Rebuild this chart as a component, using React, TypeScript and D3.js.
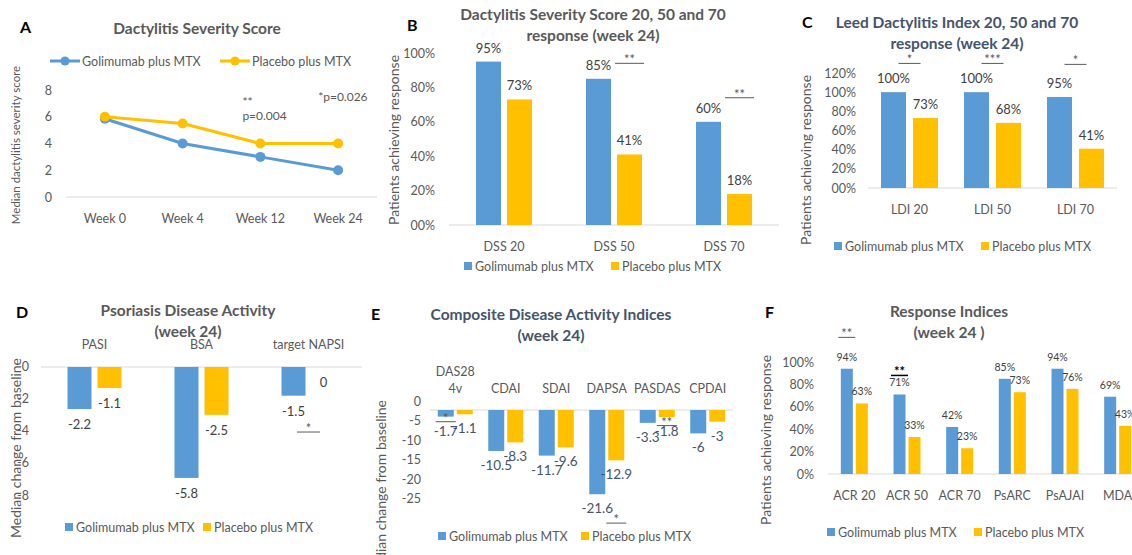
import React from "react";
import * as d3 from "d3";

// colours used by the original Excel panels
const BLUE = "#5B9BD5";
const GOLD = "#FFC000";
const GREY = "#595959";
const DARK = "#404040";
const SLATE = "#44546A";
const AXIS = "#D9D9D9";
const FONT = "Lato, 'Open Sans', sans-serif";
const COLORS = [BLUE, GOLD];

const seriesNames = ["Golimumab plus MTX", "Placebo plus MTX"];

// A - Dactylitis Severity Score over time
const weeks = ["Week 0", "Week 4", "Week 12", "Week 24"];
const dssGolimumab = [5.85, 4, 3, 2];
const dssPlacebo = [6, 5.5, 4, 4];
const dssTicks = [0, 2, 4, 6, 8];

// B - DSS response
const dssCats = ["DSS 20", "DSS 50", "DSS 70"];
const dssRespGol = [95, 85, 60];
const dssRespPla = [73, 41, 18];
const dssRespTicks = [0, 20, 40, 60, 80, 100];
const dssSig = [
  { cat: "DSS 50", text: "**", level: 94, over: "pla" },
  { cat: "DSS 70", text: "**", level: 74, over: "pla" },
];

// C - LDI response
const ldiCats = ["LDI 20", "LDI 50", "LDI 70"];
const ldiGol = [100, 100, 95];
const ldiPla = [73, 68, 41];
const ldiTicks = [0, 20, 40, 60, 80, 100, 120];
const ldiSig = [
  { cat: "LDI 20", text: "*", level: 130, over: "mid" },
  { cat: "LDI 50", text: "***", level: 130, over: "mid" },
  { cat: "LDI 70", text: "*", level: 129, over: "mid" },
];

// D - psoriasis activity
const psoCats = ["PASI", "BSA", "target NAPSI"];
const psoGol = [-2.2, -5.8, -1.5];
const psoPla = [-1.1, -2.5, 0];
const psoTicks = [0, -2, -4, -6, -8];
const psoSig = [{ cat: "target NAPSI", text: "*", level: -3.4, over: "mid" }];

// E - composite indices
const compCats = ["DAS28\n4v", "CDAI", "SDAI", "DAPSA", "PASDAS", "CPDAI"];
const compGol = [-1.7, -10.5, -11.7, -21.6, -3.3, -6];
const compPla = [-1.1, -8.3, -9.6, -12.9, -1.8, -3];
const compTicks = [0, -5, -10, -15, -20, -25];
const compSig = [
  { cat: "DAS28\n4v", text: "*", level: -3, over: "gol" },
  { cat: "PASDAS", text: "**", level: -4, over: "pla" },
  { cat: "DAPSA", text: "*", level: -29, over: "pla" },
];

// F - response indices
const respCats = ["ACR 20", "ACR 50", "ACR 70", "PsARC", "PsAJAI", "MDA"];
const respGol = [94, 71, 42, 85, 94, 69];
const respPla = [63, 33, 23, 73, 76, 43];
const respTicks = [0, 20, 40, 60, 80, 100];
const respSig = [
  { cat: "ACR 20", text: "**", level: 122, over: "gol" },
  { cat: "ACR 50", text: "**", level: 88, over: "gol" },
];

const pct0 = (v: number) => (v === 0 ? "00%" : v + "%");
const pct = (v: number) => v + "%";
const num = (v: number) => String(v);

function Legend({ x, y, step, line }: { x: number; y: number; step: number; line?: boolean }) {
  return (
    <g fontFamily={FONT} fontSize={12.5} fill={GREY}>
      {seriesNames.map((name, i) => {
        const lx = x + i * step;
        return line ? (
          <g key={name}>
            <line x1={lx} x2={lx + 30} y1={y} y2={y} stroke={COLORS[i]} strokeWidth={3} />
            <circle cx={lx + 15} cy={y} r={4.5} fill={COLORS[i]} />
            <text x={lx + 32} y={y + 4.5}>{name}</text>
          </g>
        ) : (
          <g key={name}>
            <rect x={lx} y={y - 4} width={8} height={8} fill={COLORS[i]} />
            <text x={lx + 11} y={y + 4.5}>{name}</text>
          </g>
        );
      })}
    </g>
  );
}

function Heading({ letter, lx, ly, lines, tx, ty, color }: any) {
  return (
    <g fontFamily={FONT} fontWeight="bold">
      <text x={lx} y={ly} fontSize={16} fill="#000">{letter}</text>
      {lines.map((l: string, i: number) => (
        <text key={i} x={tx} y={ty + i * 21} fontSize={15.5} fill={color} textAnchor="middle">{l}</text>
      ))}
    </g>
  );
}

function YTitle({ x, y, text, size = 14 }: { x: number; y: number; text: string; size?: number }) {
  return (
    <text transform={`translate(${x},${y}) rotate(-90)`} textAnchor="middle" dominantBaseline="middle"
      fontFamily={FONT} fontSize={size} fill={GREY}>{text}</text>
  );
}

function LinePanel() {
  const x = d3.scalePoint().domain(weeks).range([66, 377]).padding(0.5);
  const y = d3.scaleLinear().domain([0, 8]).range([197, 90]);
  const line = d3.line<number>().x((_, i) => x(weeks[i])!).y((d) => y(d));
  return (
    <g>
      <Heading letter="A" lx={20} ly={33} lines={["Dactylitis Severity Score"]} tx={197} ty={34} color={GREY} />
      <Legend x={50} y={61} step={170} line />
      <YTitle x={17} y={145} text="Median dactylitis severity score" size={11.5} />
      <line x1={66} x2={377} y1={y(0)} y2={y(0)} stroke={AXIS} />
      <g fontFamily={FONT} fontSize={12.5} fill={GREY}>
        {dssTicks.map((t) => (
          <text key={t} x={52} y={y(t) + 4.5} textAnchor="end">{t}</text>
        ))}
        {weeks.map((w) => (
          <text key={w} x={x(w)} y={223} textAnchor="middle">{w}</text>
        ))}
      </g>
      {[dssGolimumab, dssPlacebo].map((s, k) => (
        <g key={k}>
          <path d={line(s)!} fill="none" stroke={COLORS[k]} strokeWidth={3} />
          {s.map((v, i) => (
            <circle key={i} cx={x(weeks[i])} cy={y(v)} r={5} fill={COLORS[k]} />
          ))}
        </g>
      ))}
      <g fontFamily={FONT} fontSize={12} fill={GREY}>
        <text x={x("Week 12")! - 18} y={106}>**</text>
        <text x={x("Week 12")! - 18} y={120}>p=0.004</text>
        <text x={x("Week 24")! - 20} y={101}>*p=0.026</text>
      </g>
    </g>
  );
}

function BarPanel({ c }: { c: any }) {
  const x = d3.scaleBand<string>().domain(c.cats).range(c.xRange);
  const y = d3.scaleLinear().domain(c.yDomain).range(c.yRange);
  const yt = c.tickRange ? d3.scaleLinear().domain(c.yDomain).range(c.tickRange) : y;
  const zero = y(0);
  const mid = (cat: string) => x(cat)! + x.bandwidth() / 2;
  const barX = (cat: string, s: number) =>
    mid(cat) + (s === 0 ? -c.gap / 2 - c.barW : c.gap / 2);
  const series = [c.gol, c.pla];
  const below = c.yDomain[1] < 0;
  return (
    <g>
      <Heading letter={c.letter} lx={c.letterX} ly={c.letterY} lines={c.title} tx={c.titleX} ty={c.titleY} color={c.titleColor} />
      <YTitle x={c.yTitleX} y={c.yTitleY} text={c.yTitle} />
      <line x1={c.xRange[0]} x2={c.xRange[1]} y1={zero} y2={zero} stroke={AXIS} />
      <g fontFamily={FONT} fontSize={12.5} fill={GREY}>
        {c.ticks.map((t: number) => (
          <text key={t} x={c.tickX} y={yt(t) + (c.tickShift || 0) + 4.5} textAnchor="end">{c.tickFmt(t)}</text>
        ))}
        {c.cats.map((cat: string) => {
          const lines = cat.split("\n");
          return lines.map((l, i) => (
            <text key={cat + i} x={mid(cat)} y={c.catY - (lines.length - 1 - i) * 17} textAnchor="middle">{l}</text>
          ));
        })}
      </g>
      {series.map((s: number[], k: number) => (
        <g key={k}>
          {s.map((v, i) => {
            const cat = c.cats[i];
            const yv = y(v);
            return (
              <g key={i}>
                <rect x={barX(cat, k)} y={Math.min(yv, zero)} width={c.barW} height={Math.abs(yv - zero)} fill={COLORS[k]} />
                <text x={barX(cat, k) + c.barW / 2} y={below ? yv + c.valueGap : yv - c.valueGap}
                  textAnchor="middle" fontFamily={FONT} fontSize={c.valueSize} fill={c.valueColor}>
                  {c.valueFmt(v)}
                </text>
              </g>
            );
          })}
        </g>
      ))}
      {c.sig.map((sg: any, i: number) => {
        const cx = sg.over === "mid" ? mid(sg.cat) : barX(sg.cat, sg.over === "gol" ? 0 : 1) + c.barW / 2;
        const ly = y(sg.level);
        const strong = c.strongSig && c.strongSig.includes(i);
        const col = strong ? "#000" : GREY;
        return (
          <g key={i}>
            <line x1={cx - c.sigW / 2} x2={cx + c.sigW / 2} y1={ly} y2={ly} stroke={col} strokeWidth={strong ? 1.5 : 1} />
            <text x={cx} y={ly + 1} textAnchor="middle" fontFamily={FONT} fontSize={13} fontWeight={strong ? "bold" : "normal"} fill={col}>{sg.text}</text>
          </g>
        );
      })}
      <Legend x={c.legendX} y={c.legendY} step={c.legendStep} />
    </g>
  );
}

const panelB = {
  letter: "B", letterX: 407, letterY: 31,
  title: ["Dactylitis Severity Score 20, 50 and 70", "response (week 24)"], titleX: 593, titleY: 20, titleColor: GREY,
  cats: dssCats, gol: dssRespGol, pla: dssRespPla,
  xRange: [449, 779], yDomain: [0, 100], yRange: [225, 53],
  ticks: dssRespTicks, tickFmt: pct0, tickX: 435,
  barW: 25, gap: 6, valueFmt: pct, valueSize: 13, valueColor: DARK, valueGap: 9,
  catY: 251, yTitle: "Patients achieving response", yTitleX: 395, yTitleY: 140,
  legendX: 464, legendY: 266, legendStep: 147, sig: dssSig, sigW: 29,
};

const panelC = {
  letter: "C", letterX: 802, letterY: 28,
  title: ["Leed Dactylitis Index 20, 50 and 70", "response (week 24)"], titleX: 957, titleY: 28, titleColor: SLATE,
  cats: ldiCats, gol: ldiGol, pla: ldiPla,
  xRange: [868, 1117], yDomain: [0, 120], yRange: [188, 73],
  ticks: ldiTicks, tickFmt: pct0, tickX: 856,
  barW: 25, gap: 7, valueFmt: pct, valueSize: 13, valueColor: DARK, valueGap: 9,
  catY: 214, yTitle: "Patients achieving response", yTitleX: 807, yTitleY: 160,
  legendX: 834, legendY: 246, legendStep: 147, sig: ldiSig, sigW: 22,
};

const panelD = {
  letter: "D", letterX: 16, letterY: 318,
  title: ["Psoriasis Disease Activity", "(week 24)"], titleX: 188, titleY: 316, titleColor: GREY,
  cats: psoCats, gol: psoGol, pla: psoPla,
  xRange: [41, 362], yDomain: [0, -8], yRange: [367, 520], tickRange: [366, 495],
  ticks: psoTicks, tickFmt: num, tickX: 29,
  barW: 24, gap: 6, valueFmt: num, valueSize: 13, valueColor: DARK, valueGap: 20,
  catY: 349, yTitle: "Median change from baseline", yTitleX: 17, yTitleY: 448,
  legendX: 65, legendY: 527, legendStep: 138, sig: psoSig, sigW: 23,
};

const panelE = {
  letter: "E", letterX: 371, letterY: 320,
  title: ["Composite Disease Activity Indices", "(week 24)"], titleX: 551, titleY: 320, titleColor: SLATE,
  cats: compCats, gol: compGol, pla: compPla,
  xRange: [430, 733], yDomain: [0, -25], yRange: [410, 507.5], tickShift: -9,
  ticks: compTicks, tickFmt: num, tickX: 421,
  barW: 16, gap: 3, valueFmt: num, valueSize: 13.5, valueColor: SLATE, valueGap: 19,
  catY: 393, yTitle: "Median change from baseline", yTitleX: 382, yTitleY: 490,
  legendX: 438, legendY: 536, legendStep: 143, sig: compSig, sigW: 20,
};

const panelF = {
  letter: "F", letterX: 765, letterY: 318,
  title: ["Response Indices", "(week 24 )"], titleX: 949, titleY: 317, titleColor: GREY,
  cats: respCats, gol: respGol, pla: respPla,
  xRange: [828, 1144], yDomain: [0, 100], yRange: [474, 362],
  ticks: respTicks, tickFmt: pct, tickX: 814,
  barW: 12, gap: 3, valueFmt: pct, valueSize: 10.5, valueColor: DARK, valueGap: 8,
  catY: 500, yTitle: "Patients achieving response", yTitleX: 767, yTitleY: 440,
  legendX: 827, legendY: 532, legendStep: 147, sig: respSig, sigW: 17, strongSig: [1],
};

export default function App() {
  return (
    <div style={{ position: "absolute", left: 0, top: 0 }}>
      <svg width={1132} height={555} style={{ display: "block", background: "#fff" }}>
        <LinePanel />
        <BarPanel c={panelB} />
        <BarPanel c={panelC} />
        <BarPanel c={panelD} />
        <BarPanel c={panelE} />
        <BarPanel c={panelF} />
      </svg>
    </div>
  );
}
